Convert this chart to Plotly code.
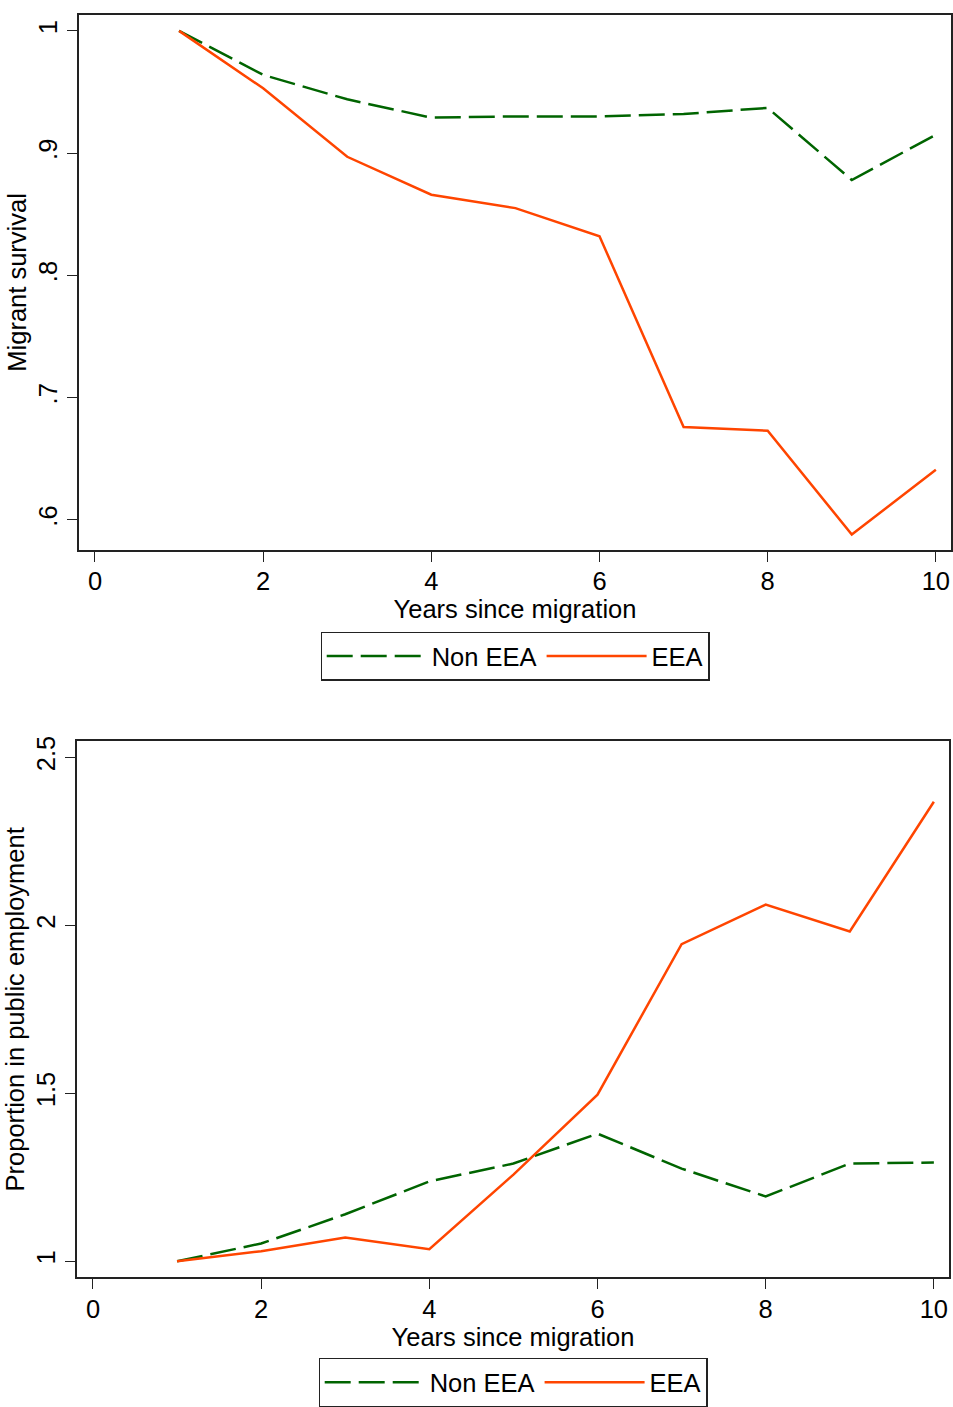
import plotly.graph_objects as go

years = [1, 2, 3, 4, 5, 6, 7, 8, 9, 10]

survival_non_eea = [1.0, 0.964, 0.944, 0.929, 0.930, 0.930, 0.932, 0.937, 0.878, 0.915]
survival_eea = [1.0, 0.953, 0.897, 0.866, 0.855, 0.832, 0.676, 0.673, 0.588, 0.641]

public_non_eea = [1.0, 1.053, 1.140, 1.238, 1.291, 1.380, 1.276, 1.193, 1.291, 1.294]
public_eea = [1.0, 1.030, 1.071, 1.036, 1.258, 1.496, 1.944, 2.062, 1.982, 2.368]

x_ticks = [0, 2, 4, 6, 8, 10]
top_y_ticks = [0.6, 0.7, 0.8, 0.9, 1.0]
top_y_text = [".6", ".7", ".8", ".9", "1"]
bot_y_ticks = [1, 1.5, 2, 2.5]
bot_y_text = ["1", "1.5", "2", "2.5"]

GREEN = "#006400"
ORANGE = "#FF4500"
FONT = "Liberation Sans, Arial, sans-serif"
FS = 25.5
W, H = 953, 1407

fig = go.Figure()

fig.add_trace(go.Scatter(x=years, y=survival_non_eea, mode="lines", name="Non EEA",
                         line=dict(color=GREEN, width=2.5, dash="26px,8px"),
                         xaxis="x", yaxis="y", legend="legend"))
fig.add_trace(go.Scatter(x=years, y=survival_eea, mode="lines", name="EEA",
                         line=dict(color=ORANGE, width=2.5),
                         xaxis="x", yaxis="y", legend="legend"))
fig.add_trace(go.Scatter(x=years, y=public_non_eea, mode="lines", name="Non EEA",
                         line=dict(color=GREEN, width=2.5, dash="26px,8px"),
                         xaxis="x2", yaxis="y2", legend="legend2"))
fig.add_trace(go.Scatter(x=years, y=public_eea, mode="lines", name="EEA",
                         line=dict(color=ORANGE, width=2.5),
                         xaxis="x2", yaxis="y2", legend="legend2"))

axis_common = dict(showline=True, linecolor="#222", linewidth=1.5, mirror=True,
                   showgrid=False, zeroline=False, ticks="outside", ticklen=10,
                   tickwidth=1.2, tickcolor="#222", automargin=False,
                   tickfont=dict(family=FONT, size=FS, color="black"))

def px_x(p):
    return p / W

def px_y(p):
    return 1 - p / H

legend_common = dict(orientation="h", xanchor="center", yanchor="top",
                     bordercolor="#222", borderwidth=1.2, bgcolor="white",
                     font=dict(family=FONT, size=FS, color="black"),
                     itemwidth=100)

fig.update_layout(
    width=W, height=H,
    margin=dict(l=0, r=0, t=0, b=0),
    paper_bgcolor="white", plot_bgcolor="white",
    font=dict(family=FONT, size=FS, color="black"),
    xaxis=dict(domain=[px_x(79), px_x(951)], anchor="y", range=[-0.19, 10.18],
               tickvals=x_ticks, ticklabelstandoff=-2,
               title=dict(text="Years since migration", standoff=0,
                          font=dict(family=FONT, size=FS, color="black")),
               **axis_common),
    yaxis=dict(domain=[px_y(551), px_y(15)], anchor="x", range=[0.5755, 1.013],
               tickvals=top_y_ticks, ticktext=top_y_text, tickangle=-90,
               title=dict(text="Migrant survival", standoff=0,
                          font=dict(family=FONT, size=FS, color="black")),
               **axis_common),
    xaxis2=dict(domain=[px_x(77), px_x(949)], anchor="y2", range=[-0.19, 10.18],
                tickvals=x_ticks, ticklabelstandoff=-2,
                title=dict(text="Years since migration", standoff=0,
                           font=dict(family=FONT, size=FS, color="black")),
                **axis_common),
    yaxis2=dict(domain=[px_y(1280), px_y(743)], anchor="x2", range=[0.9525, 2.5475],
                tickvals=bot_y_ticks, ticktext=bot_y_text, tickangle=-90,
                title=dict(text="Proportion in public employment", standoff=0,
                           font=dict(family=FONT, size=FS, color="black")),
                **axis_common),
    legend=dict(x=px_x(515), y=px_y(633), **legend_common),
    legend2=dict(x=px_x(513), y=px_y(1361), **legend_common),
)

fig.write_html("out.html")
